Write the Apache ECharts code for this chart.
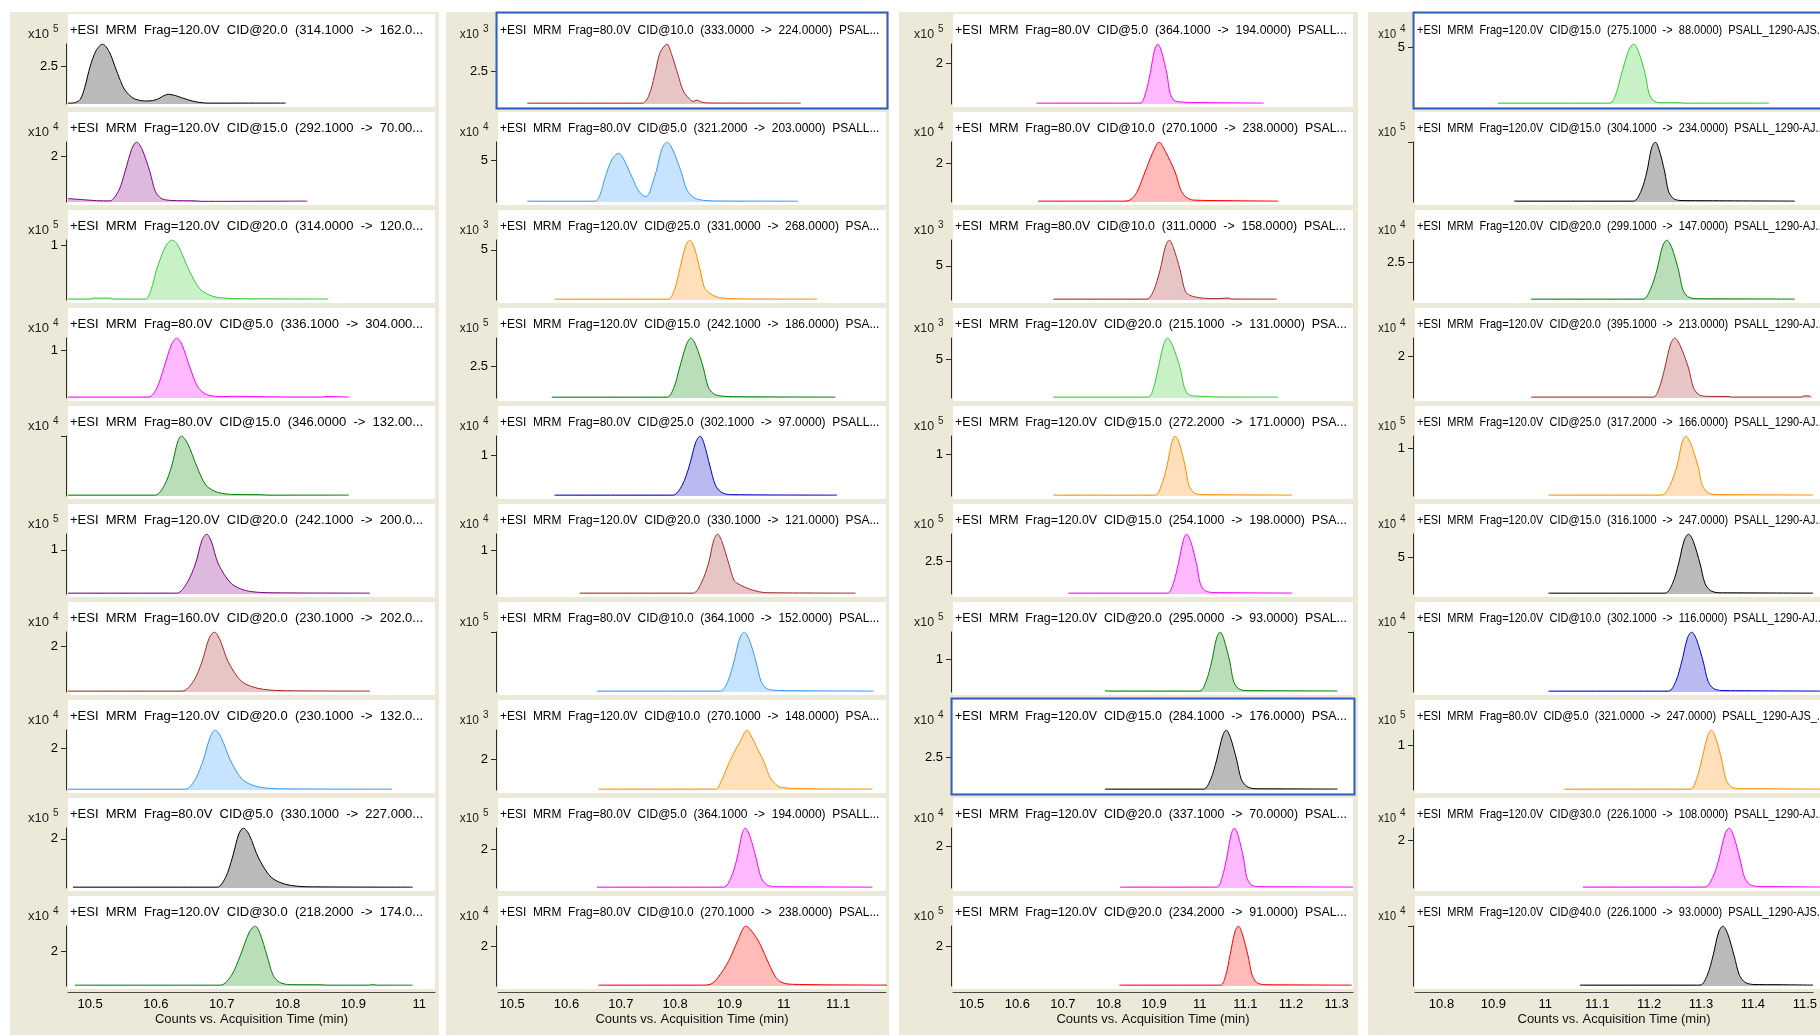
<!DOCTYPE html>
<html>
<head>
<meta charset="utf-8">
<title>MRM chromatograms</title>
<script src="https://cdn.jsdelivr.net/npm/echarts@6/dist/echarts.min.js"></script>
<style>
  html, body { margin: 0; padding: 0; background: #fff; }
  #main { width: 1820px; height: 1036px; }
</style>
</head>
<body>
<div id="main"></div>
<script>
// ---- data ----
const xRange = [[10.4665, 11.024], [10.474, 11.188], [10.459, 11.336], [10.749, 11.516]];
const xTicksA = [10.5, 10.6, 10.7, 10.8, 10.9, 11];
const xTicksB = [10.5, 10.6, 10.7, 10.8, 10.9, 11, 11.1];
const xTicksC = [10.5, 10.6, 10.7, 10.8, 10.9, 11, 11.1, 11.2, 11.3];
const xTicksD = [10.8, 10.9, 11, 11.1, 11.2, 11.3, 11.4, 11.5];
const xTitle = 'Counts vs. Acquisition Time (min)';

const COL = {
  black: '#000000', purple: '#800080', lime: '#33cc33', magenta: '#ff00ff', green: '#008000',
  brown: '#a52a2a', sky: '#3399ff', orange: '#ff8c00', navy: '#0000cd', red: '#ff0000'
};

// column 1
const titlesA = [
  '+ESI  MRM  Frag=120.0V  CID@20.0  (314.1000  ->  162.0...',
  '+ESI  MRM  Frag=120.0V  CID@15.0  (292.1000  ->  70.00...',
  '+ESI  MRM  Frag=120.0V  CID@20.0  (314.0000  ->  120.0...',
  '+ESI  MRM  Frag=80.0V  CID@5.0  (336.1000  ->  304.000...',
  '+ESI  MRM  Frag=80.0V  CID@15.0  (346.0000  ->  132.00...',
  '+ESI  MRM  Frag=120.0V  CID@20.0  (242.1000  ->  200.0...',
  '+ESI  MRM  Frag=160.0V  CID@20.0  (230.1000  ->  202.0...',
  '+ESI  MRM  Frag=120.0V  CID@20.0  (230.1000  ->  132.0...',
  '+ESI  MRM  Frag=80.0V  CID@5.0  (330.1000  ->  227.000...',
  '+ESI  MRM  Frag=120.0V  CID@30.0  (218.2000  ->  174.0...'
];
const expA = [5, 4, 5, 4, 4, 5, 4, 4, 5, 4];
const tickA = [2.5, 2, 1, 1, null, 1, 2, 2, 2, 2];
const maxA = [3.95, 2.65, 1.09, 1.25, 1.0, 1.36, 2.63, 2.89, 2.44, 3.5];
const colorA = [COL.black, COL.purple, COL.lime, COL.magenta, COL.green, COL.purple, COL.brown, COL.sky, COL.black, COL.green];
const tracesA = [
  [[10.4665,0.06],[10.476,0.08],[10.485,0.3],[10.492,1.1],[10.5,2.45],[10.509,3.5],[10.519,3.95],[10.529,3.45],[10.538,2.45],[10.546,1.55],[10.553,0.92],[10.565,0.4],[10.578,0.22],[10.588,0.2],[10.6015,0.3],[10.61,0.5],[10.619,0.64],[10.63,0.55],[10.64,0.4],[10.655,0.2],[10.667,0.1],[10.68,0.06],[10.797,0.06]],
  [[10.4665,0.15],[10.49,0.1],[10.51,0.06],[10.53,0.05],[10.544,0.53],[10.553,1.33],[10.564,2.39],[10.571,2.65],[10.579,2.33],[10.591,1.33],[10.599,0.48],[10.608,0.16],[10.622,0.07],[10.66,0.05],[10.67,0.03],[10.83,0.04]],
  [[10.4665,0.018],[10.5,0.018],[10.505,0.035],[10.53,0.035],[10.535,0.018],[10.584,0.018],[10.593,0.2],[10.601,0.55],[10.615,0.98],[10.625,1.09],[10.635,0.96],[10.65,0.55],[10.667,0.2],[10.687,0.065],[10.718,0.027],[10.862,0.018]],
  [[10.4665,0.02],[10.589,0.02],[10.602,0.225],[10.612,0.625],[10.624,1.125],[10.632,1.25],[10.64,1.1],[10.652,0.625],[10.664,0.225],[10.677,0.075],[10.698,0.03],[10.72,0.035],[10.77,0.025],[10.85,0.02],[10.86,0.03],[10.893,0.02]],
  [[10.4665,0.015],[10.599,0.015],[10.613,0.18],[10.624,0.5],[10.633,0.9],[10.6385,1.0],[10.648,0.88],[10.662,0.5],[10.676,0.18],[10.694,0.06],[10.72,0.025],[10.759,0.022],[10.77,0.015],[10.893,0.015]],
  [[10.4665,0.02],[10.632,0.02],[10.647,0.245],[10.66,0.68],[10.67,1.22],[10.677,1.36],[10.684,1.2],[10.695,0.68],[10.714,0.245],[10.736,0.08],[10.769,0.03],[10.925,0.02]],
  [[10.4665,0.04],[10.64,0.04],[10.657,0.47],[10.67,1.32],[10.681,2.37],[10.689,2.63],[10.697,2.31],[10.71,1.32],[10.73,0.47],[10.755,0.16],[10.792,0.06],[10.925,0.04]],
  [[10.4665,0.04],[10.645,0.04],[10.66,0.52],[10.672,1.45],[10.683,2.6],[10.69,2.89],[10.699,2.54],[10.713,1.45],[10.731,0.52],[10.753,0.17],[10.786,0.06],[10.959,0.04]],
  [[10.474,0.035],[10.693,0.035],[10.706,0.44],[10.716,1.22],[10.726,2.2],[10.733,2.44],[10.742,2.15],[10.756,1.22],[10.775,0.44],[10.797,0.15],[10.83,0.05],[10.99,0.035]],
  [[10.477,0.05],[10.698,0.05],[10.715,0.63],[10.728,1.75],[10.742,3.15],[10.751,3.5],[10.758,3.08],[10.769,1.75],[10.778,0.63],[10.788,0.21],[10.804,0.08],[10.853,0.07],[10.86,0.05],[10.925,0.05],[10.929,0.09],[10.935,0.05],[10.99,0.05]]
];

// column 2
const titlesB = [
  '+ESI  MRM  Frag=80.0V  CID@10.0  (333.0000  ->  224.0000)  PSAL...',
  '+ESI  MRM  Frag=80.0V  CID@5.0  (321.2000  ->  203.0000)  PSALL...',
  '+ESI  MRM  Frag=120.0V  CID@25.0  (331.0000  ->  268.0000)  PSA...',
  '+ESI  MRM  Frag=120.0V  CID@15.0  (242.1000  ->  186.0000)  PSA...',
  '+ESI  MRM  Frag=80.0V  CID@25.0  (302.1000  ->  97.0000)  PSALL...',
  '+ESI  MRM  Frag=120.0V  CID@20.0  (330.1000  ->  121.0000)  PSA...',
  '+ESI  MRM  Frag=80.0V  CID@10.0  (364.1000  ->  152.0000)  PSAL...',
  '+ESI  MRM  Frag=120.0V  CID@10.0  (270.1000  ->  148.0000)  PSA...',
  '+ESI  MRM  Frag=80.0V  CID@5.0  (364.1000  ->  194.0000)  PSALL...',
  '+ESI  MRM  Frag=80.0V  CID@10.0  (270.1000  ->  238.0000)  PSAL...'
];
const expB = [3, 4, 3, 5, 4, 4, 5, 3, 5, 4];
const tickB = [2.5, 5, 5, 2.5, 1, 1, null, 2, 2, 2];
const maxB = [4.64, 7.14, 5.98, 4.76, 1.48, 1.37, 1.0, 3.93, 3.08, 3.05];
const colorB = [COL.brown, COL.sky, COL.orange, COL.green, COL.navy, COL.brown, COL.sky, COL.orange, COL.magenta, COL.red];
const tracesB = [
  [[10.528,0.07],[10.74,0.07],[10.752,0.7],[10.762,2.2],[10.77,3.7],[10.775,4.2],[10.785,4.64],[10.793,3.9],[10.805,2.3],[10.815,1.0],[10.825,0.45],[10.833,0.2],[10.84,0.3],[10.848,0.15],[10.861,0.08],[11.031,0.07]],
  [[10.528,0.1],[10.6525,0.1],[10.662,0.9],[10.671,2.9],[10.684,5.1],[10.696,5.8],[10.706,5.0],[10.721,2.9],[10.733,1.3],[10.746,0.63],[10.752,1.0],[10.758,2.2],[10.765,3.6],[10.776,6.4],[10.785,7.14],[10.795,6.3],[10.811,3.6],[10.822,1.4],[10.835,0.5],[10.852,0.2],[10.88,0.12],[11.026,0.1]],
  [[10.578,0.09],[10.787,0.09],[10.799,1.08],[10.808,2.99],[10.819,5.38],[10.827,5.98],[10.835,5.26],[10.846,2.99],[10.854,1.2],[10.862,0.75],[10.877,0.3],[10.9,0.15],[10.945,0.1],[11.061,0.09]],
  [[10.573,0.07],[10.785,0.07],[10.798,0.86],[10.808,2.38],[10.821,4.28],[10.829,4.76],[10.838,4.19],[10.852,2.38],[10.861,0.86],[10.872,0.3],[10.889,0.14],[10.927,0.1],[11.095,0.07]],
  [[10.578,0.022],[10.796,0.022],[10.813,0.27],[10.826,0.74],[10.838,1.33],[10.846,1.48],[10.853,1.3],[10.864,0.74],[10.874,0.27],[10.885,0.09],[10.902,0.035],[11.098,0.022]],
  [[10.6245,0.02],[10.833,0.02],[10.848,0.25],[10.861,0.68],[10.871,1.23],[10.878,1.37],[10.886,1.2],[10.899,0.68],[10.908,0.32],[10.915,0.24],[10.935,0.12],[10.955,0.05],[10.97,0.03],[11.132,0.02]],
  [[10.656,0.015],[10.883,0.015],[10.897,0.18],[10.908,0.5],[10.919,0.9],[10.927,1.0],[10.936,0.88],[10.949,0.5],[10.958,0.18],[10.968,0.06],[10.983,0.03],[11.02,0.022],[11.165,0.015]],
  [[10.659,0.06],[10.874,0.06],[10.885,0.6],[10.897,1.6],[10.908,2.43],[10.92,3.2],[10.932,3.93],[10.942,3.4],[10.953,2.6],[10.964,1.8],[10.975,0.8],[10.989,0.25],[11.0,0.15],[11.02,0.1],[11.08,0.07],[11.163,0.06]],
  [[10.656,0.045],[10.889,0.045],[10.903,0.55],[10.914,1.54],[10.923,2.77],[10.929,3.08],[10.937,2.71],[10.949,1.54],[10.958,0.55],[10.968,0.18],[10.983,0.07],[11.02,0.06],[11.163,0.045]],
  [[10.659,0.045],[10.846,0.045],[10.864,0.08],[10.878,0.4],[10.899,1.3],[10.915,2.3],[10.93,3.05],[10.942,2.75],[10.955,2.2],[10.973,1.1],[10.985,0.45],[10.995,0.2],[11.008,0.1],[11.05,0.07],[11.08,0.06],[11.198,0.045]]
];

// column 3
const titlesC = [
  '+ESI  MRM  Frag=80.0V  CID@5.0  (364.1000  ->  194.0000)  PSALL...',
  '+ESI  MRM  Frag=80.0V  CID@10.0  (270.1000  ->  238.0000)  PSAL...',
  '+ESI  MRM  Frag=80.0V  CID@10.0  (311.0000  ->  158.0000)  PSAL...',
  '+ESI  MRM  Frag=120.0V  CID@20.0  (215.1000  ->  131.0000)  PSA...',
  '+ESI  MRM  Frag=120.0V  CID@15.0  (272.2000  ->  171.0000)  PSA...',
  '+ESI  MRM  Frag=120.0V  CID@15.0  (254.1000  ->  198.0000)  PSA...',
  '+ESI  MRM  Frag=120.0V  CID@20.0  (295.0000  ->  93.0000)  PSAL...',
  '+ESI  MRM  Frag=120.0V  CID@15.0  (284.1000  ->  176.0000)  PSA...',
  '+ESI  MRM  Frag=120.0V  CID@20.0  (337.1000  ->  70.0000)  PSAL...',
  '+ESI  MRM  Frag=120.0V  CID@20.0  (234.2000  ->  91.0000)  PSAL...'
];
const expC = [5, 4, 3, 3, 5, 5, 5, 4, 4, 5];
const tickC = [2, 2, 5, 5, 1, 2.5, 1, 2.5, 2, 2];
const maxC = [2.95, 3.1, 8.8, 7.8, 1.44, 4.57, 1.82, 4.59, 2.9, 3.05];
const colorC = [COL.magenta, COL.red, COL.brown, COL.lime, COL.orange, COL.magenta, COL.green, COL.black, COL.magenta, COL.red];
const tracesC = [
  [[10.6425,0.045],[10.869,0.045],[10.881,0.53],[10.891,1.48],[10.901,2.66],[10.908,2.95],[10.916,2.6],[10.928,1.48],[10.935,0.53],[10.944,0.18],[10.957,0.1],[11.0,0.07],[11.14,0.045]],
  [[10.646,0.045],[10.829,0.045],[10.847,0.1],[10.862,0.5],[10.88,1.55],[10.896,2.5],[10.911,3.1],[10.925,2.6],[10.946,1.55],[10.958,0.65],[10.97,0.25],[10.986,0.1],[11.062,0.07],[11.172,0.045]],
  [[10.679,0.13],[10.884,0.13],[10.899,1.4],[10.913,4.4],[10.925,7.9],[10.933,8.8],[10.942,7.7],[10.957,4.4],[10.968,1.3],[10.978,0.7],[10.99,0.45],[11.01,0.25],[11.04,0.2],[11.062,0.3],[11.07,0.15],[11.169,0.13]],
  [[10.679,0.12],[10.887,0.12],[10.899,1.4],[10.909,3.9],[10.921,7.0],[10.929,7.8],[10.94,6.86],[10.957,3.9],[10.966,1.4],[10.975,0.47],[10.99,0.25],[11.02,0.2],[11.03,0.14],[11.172,0.12]],
  [[10.679,0.022],[10.902,0.022],[10.916,0.26],[10.928,0.72],[10.939,1.3],[10.946,1.44],[10.955,1.27],[10.968,0.72],[10.976,0.26],[10.986,0.09],[11.0,0.035],[11.037,0.03],[11.203,0.022]],
  [[10.712,0.07],[10.929,0.07],[10.942,0.82],[10.953,2.29],[10.964,4.11],[10.971,4.57],[10.98,4.02],[10.993,2.29],[11.001,0.82],[11.011,0.27],[11.026,0.12],[11.066,0.1],[11.203,0.07]],
  [[10.792,0.04],[10.8,0.03],[11.0,0.03],[11.014,0.33],[11.026,0.91],[11.037,1.64],[11.045,1.82],[11.053,1.6],[11.066,0.91],[11.074,0.33],[11.084,0.11],[11.099,0.045],[11.136,0.04],[11.302,0.03]],
  [[10.792,0.07],[11.008,0.07],[11.024,0.83],[11.037,2.3],[11.05,4.13],[11.058,4.59],[11.067,4.04],[11.081,2.3],[11.091,0.83],[11.103,0.28],[11.121,0.1],[11.165,0.09],[11.302,0.07]],
  [[10.825,0.045],[11.037,0.045],[11.049,0.52],[11.059,1.45],[11.069,2.61],[11.076,2.9],[11.084,2.55],[11.096,1.45],[11.103,0.52],[11.112,0.17],[11.125,0.07],[11.158,0.06],[11.336,0.045]],
  [[10.824,0.045],[11.045,0.045],[11.057,0.55],[11.066,1.53],[11.077,2.75],[11.085,3.05],[11.093,2.68],[11.106,1.53],[11.115,0.55],[11.125,0.18],[11.14,0.07],[11.183,0.06],[11.333,0.045]]
];

// column 4
const titlesD = [
  '+ESI  MRM  Frag=120.0V  CID@15.0  (275.1000  ->  88.0000)  PSALL_1290-AJS...',
  '+ESI  MRM  Frag=120.0V  CID@15.0  (304.1000  ->  234.0000)  PSALL_1290-AJ...',
  '+ESI  MRM  Frag=120.0V  CID@20.0  (299.1000  ->  147.0000)  PSALL_1290-AJ...',
  '+ESI  MRM  Frag=120.0V  CID@20.0  (395.1000  ->  213.0000)  PSALL_1290-AJ...',
  '+ESI  MRM  Frag=120.0V  CID@25.0  (317.2000  ->  166.0000)  PSALL_1290-AJ...',
  '+ESI  MRM  Frag=120.0V  CID@15.0  (316.1000  ->  247.0000)  PSALL_1290-AJ...',
  '+ESI  MRM  Frag=120.0V  CID@10.0  (302.1000  ->  116.0000)  PSALL_1290-AJ...',
  '+ESI  MRM  Frag=80.0V  CID@5.0  (321.0000  ->  247.0000)  PSALL_1290-AJS_...',
  '+ESI  MRM  Frag=120.0V  CID@30.0  (226.1000  ->  108.0000)  PSALL_1290-AJ...',
  '+ESI  MRM  Frag=120.0V  CID@40.0  (226.1000  ->  93.0000)  PSALL_1290-AJS...'
];
const expD = [4, 5, 4, 4, 5, 4, 4, 5, 4, 4];
const tickD = [5, null, 2.5, 2, 1, 5, null, 1, 2, null];
const maxD = [5.33, 1.0, 4.01, 2.88, 1.25, 8.26, 1.0, 1.35, 2.5, 1.0];
const colorD = [COL.lime, COL.black, COL.green, COL.brown, COL.orange, COL.black, COL.navy, COL.orange, COL.magenta, COL.black];
const tracesD = [
  [[10.906,0.08],[11.118,0.08],[11.13,0.96],[11.14,2.67],[11.154,4.8],[11.163,5.33],[11.172,4.69],[11.185,2.67],[11.192,0.96],[11.2,0.32],[11.213,0.12],[11.251,0.11],[11.26,0.08],[11.42,0.08]],
  [[10.937,0.015],[11.1625,0.015],[11.177,0.18],[11.188,0.5],[11.197,0.9],[11.204,1.0],[11.211,0.88],[11.222,0.5],[11.229,0.18],[11.238,0.06],[11.251,0.025],[11.289,0.022],[11.468,0.015]],
  [[10.969,0.06],[11.181,0.06],[11.195,0.72],[11.207,2.0],[11.218,3.61],[11.226,4.01],[11.235,3.53],[11.248,2.0],[11.256,0.72],[11.265,0.24],[11.279,0.09],[11.323,0.08],[11.468,0.06]],
  [[10.969,0.045],[11.2,0.045],[11.212,0.52],[11.222,1.44],[11.233,2.59],[11.241,2.88],[11.251,2.53],[11.267,1.44],[11.276,0.52],[11.286,0.17],[11.301,0.08],[11.342,0.07],[11.35,0.045],[11.48,0.045],[11.485,0.1],[11.495,0.1],[11.5,0.05]],
  [[11.0017,0.02],[11.216,0.02],[11.232,0.225],[11.245,0.625],[11.255,1.125],[11.262,1.25],[11.271,1.1],[11.285,0.625],[11.293,0.225],[11.303,0.075],[11.317,0.03],[11.355,0.027],[11.503,0.02]],
  [[11.0017,0.12],[11.2225,0.12],[11.237,1.49],[11.248,4.13],[11.259,7.43],[11.267,8.26],[11.276,7.27],[11.289,4.13],[11.298,1.49],[11.308,0.5],[11.323,0.18],[11.358,0.16],[11.503,0.12]],
  [[11.0017,0.015],[11.229,0.015],[11.243,0.18],[11.254,0.5],[11.265,0.9],[11.273,1.0],[11.282,0.88],[11.295,0.5],[11.304,0.18],[11.314,0.06],[11.33,0.025],[11.364,0.022],[11.516,0.015]],
  [[11.032,0.02],[11.27,0.02],[11.282,0.24],[11.292,0.675],[11.303,1.215],[11.31,1.35],[11.318,1.19],[11.33,0.675],[11.338,0.24],[11.347,0.08],[11.361,0.03],[11.399,0.028],[11.516,0.02]],
  [[11.067,0.04],[11.298,0.04],[11.313,0.45],[11.325,1.25],[11.336,2.25],[11.344,2.5],[11.352,2.2],[11.364,1.25],[11.373,0.45],[11.383,0.15],[11.399,0.06],[11.44,0.055],[11.516,0.04]],
  [[11.067,0.015],[11.298,0.015],[11.312,0.18],[11.323,0.5],[11.334,0.9],[11.342,1.0],[11.351,0.88],[11.364,0.5],[11.374,0.18],[11.385,0.06],[11.402,0.025],[11.45,0.022],[11.516,0.015]]
];

// ---- layout ----
const FONT = '"Liberation Sans", Arial, sans-serif';
const plotLeft = [68, 498, 953, 1415];
const plotRight = [435, 886, 1353, 1820];
const beigeLeft = [10, 446, 899, 1368];
const beigeRight = [439, 889, 1358, 1820];
const textSqueeze = [1.0, 0.92, 0.95, 0.845];     // panel text is narrower in the right-hand columns
const selectedPanels = [[1, 0], [3, 0], [2, 7]];  // [column, row] with the blue frame

const columns = [
  { titles: titlesA, exps: expA, ticks: tickA, maxes: maxA, colors: colorA, traces: tracesA, xTicks: xTicksA },
  { titles: titlesB, exps: expB, ticks: tickB, maxes: maxB, colors: colorB, traces: tracesB, xTicks: xTicksB },
  { titles: titlesC, exps: expC, ticks: tickC, maxes: maxC, colors: colorC, traces: tracesC, xTicks: xTicksC },
  { titles: titlesD, exps: expD, ticks: tickD, maxes: maxD, colors: colorD, traces: tracesD, xTicks: xTicksD }
];

function rowTop(r) { return 14 + 98 * r; }

const grid = [], xAxis = [], yAxis = [], series = [], graphic = [];

columns.forEach(function (col, c) {
  graphic.push({
    type: 'rect', silent: true, z: -3,
    shape: { x: beigeLeft[c], y: 12, width: beigeRight[c] - beigeLeft[c], height: 1023 },
    style: { fill: '#ece9d8' }
  });

  for (let r = 0; r < 10; r++) {
    const idx = grid.length;
    const top = rowTop(r);
    const M = col.maxes[r];
    const tick = col.ticks[r];

    graphic.push({
      type: 'rect', silent: true, z: -2,
      shape: { x: plotLeft[c], y: top, width: plotRight[c] - plotLeft[c], height: 93 },
      style: { fill: '#ffffff' }
    });
    graphic.push({
      type: 'text', silent: true, z: 10, x: plotLeft[c] + 2, y: top + 16, scaleX: textSqueeze[c],
      style: { text: col.titles[r], fontSize: 13, fontFamily: FONT, fill: '#000', verticalAlign: 'middle', align: 'left' }
    });
    graphic.push({
      type: 'text', silent: true, z: 10, x: plotLeft[c] - 19, y: top + 20, scaleX: textSqueeze[c],
      style: { text: 'x10', fontSize: 13, fontFamily: FONT, fill: '#222', verticalAlign: 'middle', align: 'right' }
    });
    graphic.push({
      type: 'text', silent: true, z: 10, x: plotLeft[c] - 15, y: top + 15,
      style: { text: String(col.exps[r]), fontSize: 10, fontFamily: FONT, fill: '#222', verticalAlign: 'middle', align: 'left' }
    });

    grid.push({ left: plotLeft[c], top: top + 30, width: plotRight[c] - plotLeft[c], height: 60 });

    const bottomRow = r === 9;
    xAxis.push({
      gridIndex: idx, type: 'value', min: xRange[c][0], max: xRange[c][1],
      show: bottomRow, offset: 6,
      axisLine: { show: true, onZero: false, lineStyle: { color: '#4a4a4a', width: 1 } },
      axisTick: { show: false },
      splitLine: { show: false },
      axisLabel: {
        customValues: col.xTicks, color: '#000', fontSize: 13, fontFamily: FONT, margin: 6,
        formatter: function (v) { return String(+v.toFixed(1)); }
      },
      name: bottomRow ? xTitle : '', nameLocation: 'middle', nameGap: 21,
      nameTextStyle: { color: '#111', fontSize: 13, fontFamily: FONT }
    });

    yAxis.push({
      gridIndex: idx, type: 'value', min: 0, max: M, offset: 2,
      axisLine: { show: true, lineStyle: { color: '#2a2a2a', width: 1 } },
      axisTick: { show: true, length: 5, customValues: [tick == null ? M : tick], lineStyle: { color: '#2a2a2a' } },
      axisLabel: {
        show: tick != null, customValues: [tick == null ? M : tick],
        color: '#000', fontSize: 13, fontFamily: FONT, margin: 8
      },
      splitLine: { show: false }
    });

    series.push({
      type: 'line', xAxisIndex: idx, yAxisIndex: idx,
      data: col.traces[r], showSymbol: false, symbol: 'none', smooth: 0.3, silent: true, z: 3,
      lineStyle: { color: col.colors[r], width: 1 },
      areaStyle: { color: col.colors[r], opacity: 0.27 }
    });
  }
});

selectedPanels.forEach(function (p) {
  const c = p[0], r = p[1];
  graphic.push({
    type: 'rect', silent: true, z: 8,
    shape: { x: plotLeft[c] - 1.5, y: rowTop(r) - 1.5, width: plotRight[c] - plotLeft[c] + 3, height: 96 },
    style: { fill: 'none', stroke: '#2d5fc4', lineWidth: 2 }
  });
});

const chart = echarts.init(document.getElementById('main'), null, { renderer: 'canvas' });
chart.setOption({
  backgroundColor: '#ffffff',
  animation: false,
  grid: grid,
  xAxis: xAxis,
  yAxis: yAxis,
  series: series,
  graphic: graphic
});
</script>
</body>
</html>
